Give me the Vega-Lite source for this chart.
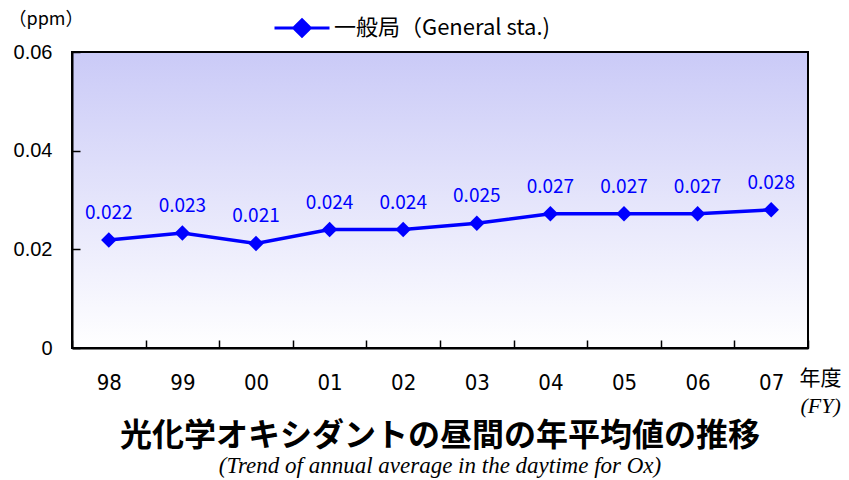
{
  "$schema": "https://vega.github.io/schema/vega-lite/v6.json",
  "width": 736,
  "height": 296,
  "autosize": {"type": "none"},
  "padding": {"left": 72, "top": 52, "right": 41, "bottom": 132},
  "background": "white",
  "config": {
    "view": {
      "stroke": "black",
      "strokeWidth": 2,
      "fill": {"gradient": "linear", "x1": 0, "y1": 0, "x2": 0, "y2": 1,
        "stops": [{"offset": 0, "color": "#cacaf7"}, {"offset": 1, "color": "#ffffff"}]}
    },
    "axis": {"grid": false, "domainColor": "black", "tickColor": "black", "labelColor": "black", "titleColor": "black"}
  },
  "title": {
    "text": "光化学オキシダントの昼間の年平均値の推移",
    "subtitle": "(Trend of annual average in the daytime for Ox)",
    "orient": "bottom",
    "anchor": "middle",
    "font": "Noto Sans CJK JP",
    "fontWeight": "bold",
    "fontSize": 32,
    "color": "black",
    "subtitleFont": "Liberation Serif",
    "subtitleFontStyle": "italic",
    "subtitleFontSize": 23,
    "subtitleColor": "black",
    "subtitlePadding": 2,
    "offset": 5
  },
  "data": {"values": [
    {"year": "98", "value": 0.0219, "series": "一般局（General sta.)"},
    {"year": "99", "value": 0.0233, "series": "一般局（General sta.)"},
    {"year": "00", "value": 0.0212, "series": "一般局（General sta.)"},
    {"year": "01", "value": 0.0240, "series": "一般局（General sta.)"},
    {"year": "02", "value": 0.0240, "series": "一般局（General sta.)"},
    {"year": "03", "value": 0.0253, "series": "一般局（General sta.)"},
    {"year": "04", "value": 0.0272, "series": "一般局（General sta.)"},
    {"year": "05", "value": 0.0272, "series": "一般局（General sta.)"},
    {"year": "06", "value": 0.0272, "series": "一般局（General sta.)"},
    {"year": "07", "value": 0.0280, "series": "一般局（General sta.)"}
  ]},
  "resolve": {"axis": {"x": "independent"}},
  "layer": [
    {
      "mark": {"type": "line", "strokeWidth": 3.5},
      "encoding": {
        "x": {"field": "year", "type": "ordinal", "sort": null,
          "scale": {"type": "band", "paddingInner": 0, "paddingOuter": 0},
          "axis": {"orient": "bottom", "tickBand": "extent", "tickSize": -8, "tickWidth": 1.5, "domainWidth": 2,
            "labelAngle": 0, "labelFont": "DejaVu Sans Condensed, Liberation Sans", "labelFontSize": 22, "labelPadding": 32,
            "title": "年度", "titleFont": "Noto Sans CJK JP", "titleFontSize": 21, "titleFontWeight": "normal",
            "titleX": 727, "titleY": 30, "titleAlign": "left", "titleBaseline": "middle", "titleAnchor": null}},
        "y": {"field": "value", "type": "quantitative",
          "scale": {"domain": [0, 0.06], "nice": false},
          "axis": {"values": [0, 0.02, 0.04, 0.06], "format": "~g", "tickSize": -8, "tickWidth": 1.5, "domainWidth": 2,
            "labelFont": "Liberation Sans", "labelFontSize": 20, "labelPadding": 28,
            "title": "（ppm）", "titleFont": "Noto Sans CJK JP", "titleFontSize": 18, "titleFontWeight": "normal",
            "titleAngle": 0, "titleX": -64, "titleY": -33, "titleAlign": "left", "titleBaseline": "middle"}},
        "color": {"field": "series", "type": "nominal",
          "scale": {"range": ["#0000ff"]},
          "legend": {"title": null, "orient": "none", "legendX": 201, "legendY": -53, "padding": 0,
            "symbolType": "M-1,0H1M0,-0.3L0.3,0L0,0.3L-0.3,0Z", "symbolSize": 3025,
            "symbolStrokeWidth": 3, "symbolFillColor": "#0000ff", "symbolStrokeColor": "#0000ff",
            "labelFont": "Noto Sans CJK JP", "labelFontSize": 22, "labelColor": "black", "labelOffset": 3, "labelLimit": 400}}
      }
    },
    {
      "mark": {"type": "point", "shape": "diamond", "filled": true, "size": 240, "opacity": 1},
      "encoding": {
        "x": {"field": "year", "type": "ordinal", "sort": null,
          "axis": {"orient": "bottom", "labels": false, "ticks": false, "domain": false,
            "title": "(FY)", "titleFont": "Liberation Serif", "titleFontStyle": "italic", "titleFontSize": 22, "titleFontWeight": "normal",
            "titleX": 728, "titleY": 57, "titleAlign": "left", "titleBaseline": "middle", "titleAnchor": null}},
        "y": {"field": "value", "type": "quantitative"},
        "color": {"field": "series", "type": "nominal"}
      }
    },
    {
      "mark": {"type": "text", "dy": -27, "color": "#0000ff", "font": "Noto Sans CJK JP", "fontSize": 19},
      "encoding": {
        "x": {"field": "year", "type": "ordinal", "sort": null, "axis": null},
        "y": {"field": "value", "type": "quantitative"},
        "text": {"field": "value", "type": "quantitative", "format": ".3f"}
      }
    }
  ]
}
